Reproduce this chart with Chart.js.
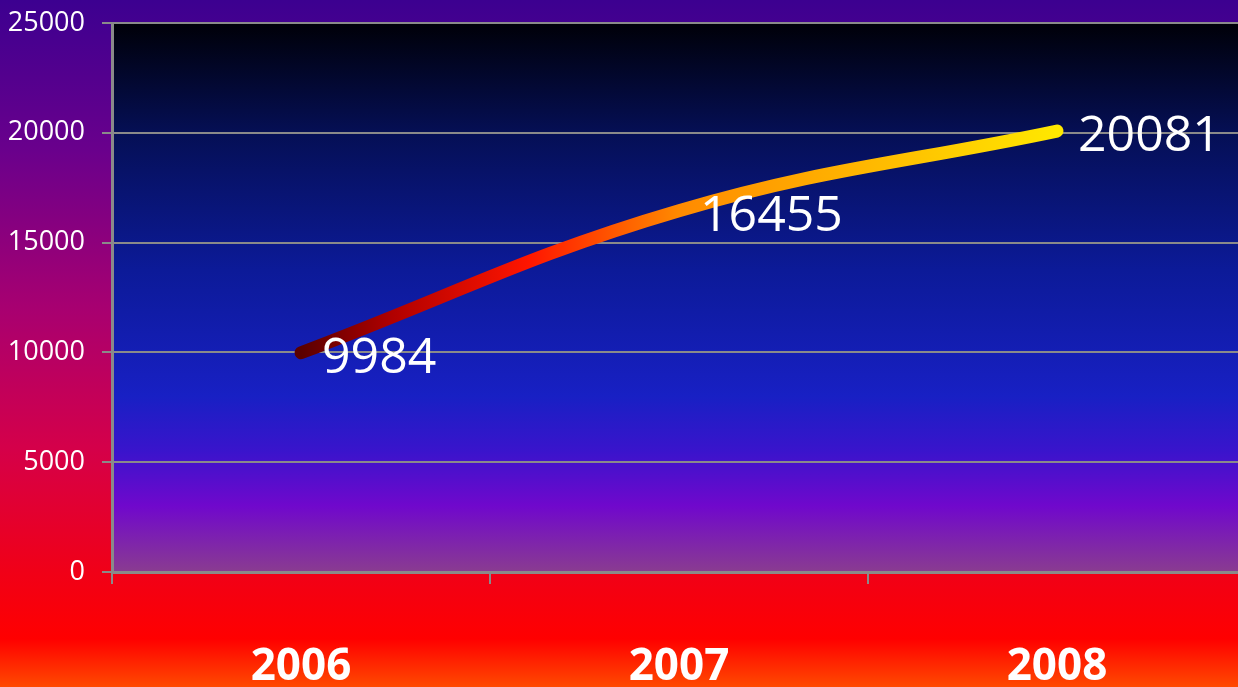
<!DOCTYPE html>
<html>
<head>
<meta charset="utf-8">
<script src="https://cdn.jsdelivr.net/npm/chart.js@4.4.1/dist/chart.umd.min.js"></script>
<style>
  html, body { margin: 0; padding: 0; overflow: hidden; background: #ff2000; }
  #wrap { width: 1238px; height: 687px; overflow: hidden; position: relative; }
  #box { width: 1250px; height: 687px; position: absolute; left: 0; top: 0; }
</style>
</head>
<body>
<div id="wrap"><div id="box"><canvas id="chart"></canvas></div></div>
<script>
// Data
const years = ["2006", "2007", "2008"];
const totals = [9984, 16455, 20081];
const yMax = 25000;
const yStep = 5000;

// Page background + plot area gradients
const bgPlugin = {
  id: "bg",
  beforeDraw(chart) {
    const { ctx, width, height, chartArea: a } = chart;
    ctx.save();
    const g = ctx.createLinearGradient(0, 0, 0, height);
    g.addColorStop(0, "#3c0090");
    g.addColorStop(0.22, "#6a008c");
    g.addColorStop(0.45, "#a80070");
    g.addColorStop(0.65, "#d4004a");
    g.addColorStop(0.83, "#f00018");
    g.addColorStop(0.93, "#ff0000");
    g.addColorStop(1, "#ff4a00");
    ctx.fillStyle = g;
    ctx.fillRect(0, 0, width, height);

    const p = ctx.createLinearGradient(0, a.top, 0, a.bottom);
    p.addColorStop(0, "#000008");
    p.addColorStop(0.2, "#050f55");
    p.addColorStop(0.45, "#0c1a98");
    p.addColorStop(0.68, "#1820c4");
    p.addColorStop(0.78, "#3a14cc");
    p.addColorStop(0.88, "#7008cc");
    p.addColorStop(1, "#8a3c90");
    ctx.fillStyle = p;
    ctx.fillRect(a.left, a.top, a.right - a.left, a.bottom - a.top);
    ctx.restore();
  }
};

// Value labels to the right of each point
const labelPlugin = {
  id: "vals",
  afterDatasetsDraw(chart) {
    const { ctx } = chart;
    const meta = chart.getDatasetMeta(0);
    ctx.save();
    ctx.fillStyle = "#ffffff";
    ctx.font = "50px 'Open Sans'";
    ctx.textBaseline = "middle";
    ctx.textAlign = "left";
    meta.data.forEach((pt, i) => {
      ctx.fillText(String(totals[i]), pt.x + 21, pt.y + 6);
    });
    ctx.restore();
  }
};

function lineGradient(context) {
  const chart = context.chart;
  const xs = chart.scales && chart.scales.x;
  if (!chart.chartArea || !xs) return "#ff8000";
  const x0 = xs.getPixelForValue(0), x1 = xs.getPixelForValue(years.length - 1);
  if (!Number.isFinite(x0) || !Number.isFinite(x1) || x0 === x1) return "#ff8000";
  const g = chart.ctx.createLinearGradient(x0, 0, x1, 0);
  g.addColorStop(0, "#5a0000");
  g.addColorStop(0.12, "#b00000");
  g.addColorStop(0.3, "#ff1500");
  g.addColorStop(0.5, "#ff8a00");
  g.addColorStop(0.75, "#ffb800");
  g.addColorStop(1, "#ffe800");
  return g;
}

new Chart(document.getElementById("chart"), {
  type: "line",
  data: {
    labels: years,
    datasets: [{
      data: totals,
      borderColor: lineGradient,
      borderWidth: 13,
      borderCapStyle: "round",
      borderJoinStyle: "round",
      tension: 0.4,
      pointRadius: 0,
      fill: false
    }]
  },
  options: {
    responsive: true,
    maintainAspectRatio: false,
    animation: false,
    layout: { padding: { top: 23, left: 0, right: 4, bottom: 0 } },
    plugins: { legend: { display: false }, tooltip: { enabled: false } },
    scales: {
      x: {
        offset: true,
        grid: { offset: true, drawOnChartArea: false, color: "#8a8a8a", lineWidth: 2, tickLength: 12 },
        border: { display: true, color: "#8a8a8a", width: 3 },
        ticks: { color: "#ffffff", font: { family: "'Open Sans'", size: 44, weight: "bold" }, padding: 57 },
        afterFit(s) { s.height = 687 - 572; s.paddingLeft = 0; s.paddingRight = 0; }
      },
      y: {
        min: 0,
        max: yMax,
        ticks: {
          stepSize: yStep,
          color: "#ffffff",
          font: { family: "'Open Sans'", size: 27 },
          padding: 17,
          callback: v => String(v)
        },
        grid: { color: "#8a8a8a", lineWidth: 2, tickLength: 10 },
        border: { display: true, color: "#8a8a8a", width: 3 },
        afterFit(s) { s.width = 112; s.paddingTop = 0; s.paddingBottom = 0; }
      }
    }
  },
  plugins: [bgPlugin, labelPlugin]
});
</script>
</body>
</html>
